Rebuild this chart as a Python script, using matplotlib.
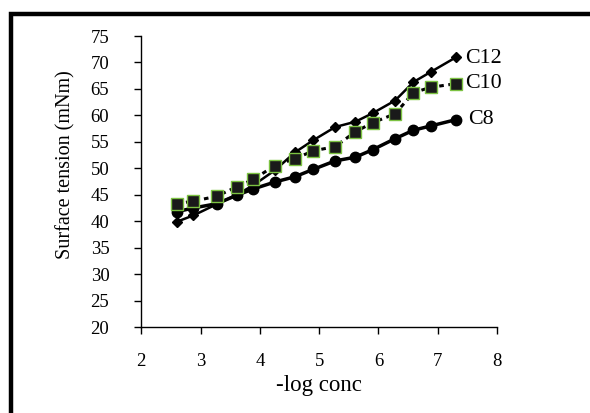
import matplotlib.pyplot as plt
from matplotlib.patches import Rectangle

# data
log_conc = [2.6, 2.88, 3.27, 3.61, 3.89, 4.25, 4.59, 4.9, 5.27, 5.61, 5.9, 6.28, 6.59, 6.88, 7.31]
c12 = [39.9, 41.1, 43.2, 45.0, 46.8, 49.6, 53.0, 55.3, 57.8, 58.8, 60.4, 62.8, 66.3, 68.2, 71.0]
c10 = [43.3, 43.8, 44.7, 46.5, 47.9, 50.5, 51.8, 53.3, 54.1, 56.9, 58.6, 60.3, 64.3, 65.3, 66.0]
c8 = [41.8, 42.5, 43.3, 44.9, 46.1, 47.4, 48.4, 49.8, 51.4, 52.1, 53.5, 55.6, 57.2, 58.0, 59.2]
series_names = ['C12', 'C10', 'C8']

plt.rcParams['font.family'] = ['Liberation Serif', 'DejaVu Serif']

fig = plt.figure(figsize=(5.9, 4.13), dpi=100)
ax = fig.add_axes([0.2395, 0.2082, 0.6030, 0.7046])

ax.plot(log_conc, c12, color='black', linewidth=1.8, marker='D', markersize=5.5, zorder=3)
ax.plot(log_conc, c10, color='black', linewidth=2.2, linestyle=(0, (1.5, 1.5)), marker='s',
        markersize=8.5, markerfacecolor='#1a1a1a', markeredgecolor='#7cc242', markeredgewidth=1.0, zorder=4)
ax.plot(log_conc, c8, color='black', linewidth=2.5, marker='o', markersize=7.5, zorder=2)

# series labels next to the last point of each line
ax.annotate(series_names[0], (log_conc[-1], c12[-1]), xytext=(6.5, -1.2), textcoords='offset points',
            fontsize=15.8, va='center', ha='left')
ax.annotate(series_names[1], (log_conc[-1], c10[-1]), xytext=(6.5, 0), textcoords='offset points',
            fontsize=15.8, va='center', ha='left')
ax.annotate(series_names[2], (log_conc[-1], c8[-1]), xytext=(8.5, 0), textcoords='offset points',
            fontsize=15.8, va='center', ha='left')

ax.set_xlim(2, 8)
ax.set_ylim(20, 75)
ax.set_xticks(range(2, 9))
ax.set_yticks(range(20, 80, 5))
ax.tick_params(direction='out', length=5, width=1, labelsize=13.5)
ax.tick_params(axis='x', pad=14)
ax.tick_params(axis='y', pad=18)
for s in ['top', 'right']:
    ax.spines[s].set_visible(False)
ax.spines['left'].set_linewidth(1)
ax.spines['bottom'].set_linewidth(1)

ax.set_xlabel('-log conc', fontsize=16.5, labelpad=3)
ax.set_ylabel('Surface tension (mNm)', fontsize=14.5)
ax.yaxis.set_label_coords(-0.185, 0.557)

# outer frame (only left and top edges are visible in the original crop)
fig.patches.append(Rectangle((0.0178, -0.1), 1.1, 1.067, transform=fig.transFigure,
                             fill=False, edgecolor='black', linewidth=3.2))

fig.savefig('out.png', dpi=100)
